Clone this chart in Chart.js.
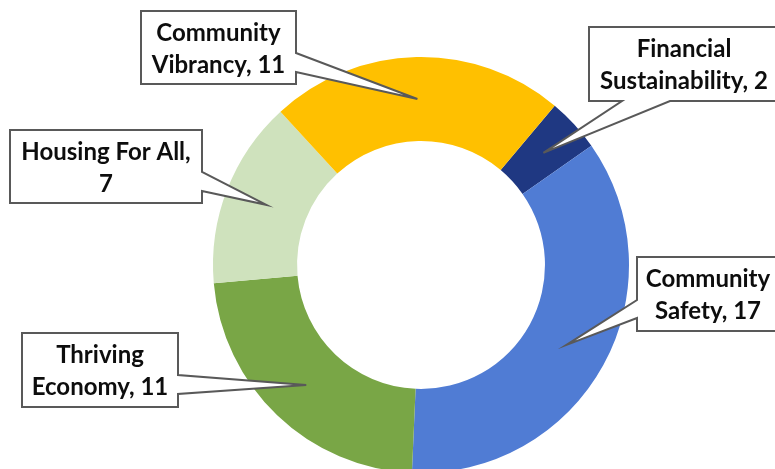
<!DOCTYPE html>
<html><head><meta charset="utf-8">
<script src="https://cdn.jsdelivr.net/npm/chart.js@4.4.0/dist/chart.umd.min.js"></script>
<style>
html,body{margin:0;padding:0;overflow:hidden;background:#fff;width:775px;height:469px}
#wrap{position:absolute;left:0;top:0;width:775px;height:473px}
</style></head><body>
<div id="wrap"><canvas id="c"></canvas></div>
<script>
const categories = ["Financial Sustainability","Community Safety","Thriving Economy","Housing For All","Community Vibrancy"];
const values = [2, 17, 11, 7, 11];
const colors = ["#1F3882","#507CD4","#79A646","#CFE2BD","#FFC000"];

// callout box layout (position/size), one per category
const callouts = [
  {x:589, y:27,  w:190, h:74, edge:'bottom', a:33, b:81},
  {x:637, y:257, w:142, h:74, edge:'left',   a:43, b:61},
  {x:22,  y:333, w:156, h:74, edge:'right',  a:42, b:61},
  {x:10,  y:130, w:192, h:73, edge:'right',  a:42, b:61},
  {x:141, y:11,  w:155, h:73, edge:'right',  a:42, b:61}
];
const FONT = 'bold 24px Lato, "Open Sans", sans-serif';

function wrap(ctx, text, maxW){
  const words = text.split(' ');
  const lines = [];
  let cur = '';
  for (const w of words){
    const t = cur ? cur + ' ' + w : w;
    if (cur && ctx.measureText(t).width > maxW){ lines.push(cur); cur = w; }
    else cur = t;
  }
  if (cur) lines.push(cur);
  return lines;
}

const calloutPlugin = {
  id: 'callouts',
  afterDatasetsDraw(chart){
    const ctx = chart.ctx;
    const arcs = chart.getDatasetMeta(0).data;
    ctx.save();
    ctx.font = FONT;
    arcs.forEach((arc, i) => {
      const c = callouts[i];
      const tip = arc.getCenterPoint();
      const {x, y, w, h, edge, a, b} = c;
      ctx.beginPath();
      ctx.moveTo(x, y);
      ctx.lineTo(x + w, y);
      if (edge === 'right'){ ctx.lineTo(x + w, y + a); ctx.lineTo(tip.x, tip.y); ctx.lineTo(x + w, y + b); }
      ctx.lineTo(x + w, y + h);
      if (edge === 'bottom'){ ctx.lineTo(x + b, y + h); ctx.lineTo(tip.x, tip.y); ctx.lineTo(x + a, y + h); }
      ctx.lineTo(x, y + h);
      if (edge === 'left'){ ctx.lineTo(x, y + b); ctx.lineTo(tip.x, tip.y); ctx.lineTo(x, y + a); }
      ctx.closePath();
      ctx.fillStyle = '#ffffff';
      ctx.fill();
      ctx.lineWidth = 2;
      ctx.strokeStyle = '#595959';
      ctx.lineJoin = 'miter';
      ctx.stroke();

      const label = categories[i] + ', ' + values[i];
      const lines = wrap(ctx, label, w - 10);
      ctx.fillStyle = '#0d0d0d';
      ctx.textAlign = 'center';
      ctx.textBaseline = 'alphabetic';
      lines.forEach((ln, k) => ctx.fillText(ln, x + w / 2, y + 30 + k * 32));
    });
    ctx.restore();
  }
};

new Chart(document.getElementById('c'), {
  type: 'doughnut',
  data: {
    labels: categories,
    datasets: [{
      data: values,
      backgroundColor: colors,
      borderWidth: 0,
      hoverOffset: 0,
      offset: 0
    }]
  },
  options: {
    responsive: true,
    maintainAspectRatio: false,
    animation: false,
    rotation: 40,
    cutout: '59.6%',
    layout: { padding: { left: 213, right: 146, top: 57, bottom: 0 } },
    plugins: { legend: { display: false }, tooltip: { enabled: false } },
    events: []
  },
  plugins: [calloutPlugin]
});
</script>
</body></html>
